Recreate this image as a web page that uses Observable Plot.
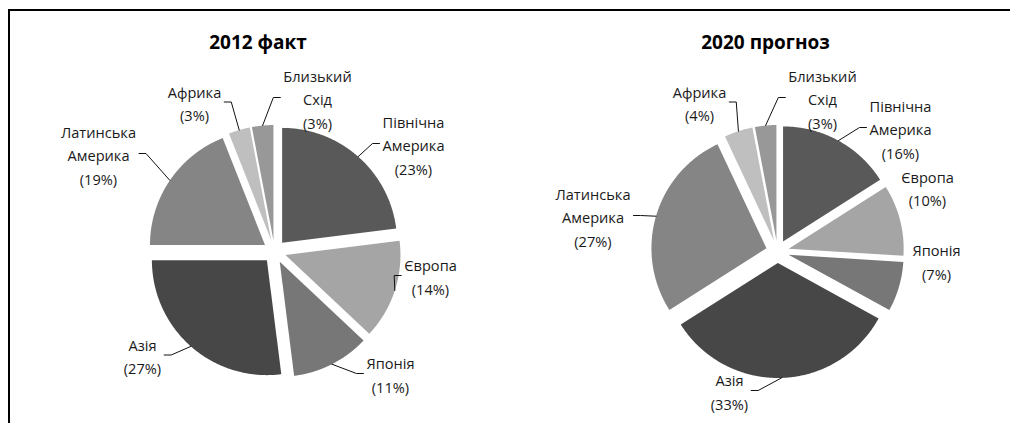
<!DOCTYPE html>
<html><head><meta charset="utf-8">
<script src="https://cdn.jsdelivr.net/npm/d3@7"></script>
<script src="https://cdn.jsdelivr.net/npm/@observablehq/plot@0.6"></script>
<style>
html,body{margin:0;padding:0;background:#fff;}
#wrap{position:relative;width:1010px;height:423px;overflow:hidden;font-family:"Open Sans",sans-serif;}
#frame{position:absolute;left:8px;top:9px;width:1100px;height:600px;border-top:2px solid #000;border-left:2px solid #000;box-sizing:border-box;pointer-events:none;}
.pie{position:absolute;top:0;}
</style></head><body>
<div id="wrap"></div>
<script>
// ---------- data ----------
const regions = ["Північна Америка", "Європа", "Японія", "Азія", "Латинська Америка", "Африка", "Близький Схід"];
const share2012 = [23, 14, 11, 27, 19, 3, 3];
const share2020 = [16, 10, 7, 33, 27, 4, 3];
const titles = ["2012 факт", "2020 прогноз"];

// ---------- style / layout ----------
const grays = ["#595959", "#a5a5a5", "#777777", "#474747", "#858585", "#bfbfbf", "#989898"];
const FONT = "'Open Sans'";
const R = 115;            // pie radius in px
const EXPLODE = 0.1;      // slice explosion, fraction of radius
const LABEL_FONT = 14.6, LINE_PX = 23.5;
const pies = [
  {title: titles[0], values: share2012, left: 0, cx: 274, cy: 251, titleDx: -16.5, titleY: 42.5,
   labelOffsets: [[139,-108],[156,24],[116,122],[-132,103.5],[-176,-98],[-80,-149.5],[43,-154]],
   leaders: [true,true,true,true,true,true,true]},
  {title: titles[1], values: share2020, left: 505, cx: 272, cy: 251, titleDx: -12, titleY: 42.5,
   labelOffsets: [[123,-124],[150,-64.5],[159,9],[-48,139],[-184.5,-36],[-78,-149.5],[45,-154]],
   leaders: [true,false,false,true,true,true,true]}
];

const ctx = document.createElement("canvas").getContext("2d");
ctx.font = `${LABEL_FONT}px ${FONT}`;

function build(p) {
  const total = d3.sum(p.values);
  let acc = 0;
  const rows = [], labels = [], leaders = [];
  p.values.forEach((v, i) => {
    const a0 = acc / total * 2 * Math.PI; acc += v;
    const a1 = acc / total * 2 * Math.PI;
    const am = (a0 + a1) / 2;
    const ox = EXPLODE * Math.sin(am), oy = EXPLODE * Math.cos(am);
    const region = regions[i];
    rows.push({region, x: ox, y: oy});
    const n = Math.max(2, Math.ceil((a1 - a0) / (Math.PI / 360)));
    for (let k = 0; k <= n; k++) {
      const a = a0 + (a1 - a0) * k / n;
      rows.push({region, x: ox + Math.sin(a), y: oy + Math.cos(a)});
    }
    rows.push({region, x: ox, y: oy});

    const lines = region.split(" ").concat([`(${v}%)`]);
    const [dx, dy] = p.labelOffsets[i];
    const lx = dx / R, ly = -dy / R;
    labels.push({x: lx, y: ly, text: lines.join("\n")});

    if (p.leaders[i]) {
      const hw = d3.max(lines, s => ctx.measureText(s).width) / 2;
      const ax = ox + Math.sin(am), ay = oy + Math.cos(am);   // arc point (data units)
      const axPx = ax * R, lxPx = dx;
      const side = axPx >= lxPx ? 1 : -1;
      const endPx = lxPx + side * (hw + 3);
      const elbowPx = endPx + side * 7;
      leaders.push({id: region, x: endPx / R, y: ly});
      leaders.push({id: region, x: elbowPx / R, y: ly});
      leaders.push({id: region, x: ax, y: ay});
    }
  });
  return {rows, labels, leaders};
}

const wrap = document.getElementById("wrap");
for (const p of pies) {
  const {rows, labels, leaders} = build(p);
  const chart = Plot.plot({
    width: 505, height: 423, margin: 0,
    x: {domain: [-1, 1], range: [p.cx - R, p.cx + R], axis: null},
    y: {domain: [-1, 1], range: [p.cy + R, p.cy - R], axis: null},
    color: {domain: regions, range: grays},
    style: {background: "transparent", fontFamily: FONT + ", sans-serif", overflow: "visible"},
    marks: [
      Plot.line(rows, {x: "x", y: "y", z: "region", fill: "region", stroke: "none", curve: "linear"}),
      Plot.line(leaders, {x: "x", y: "y", z: "id", stroke: "#111", strokeWidth: 1}),
      Plot.text(labels, {x: "x", y: "y", text: "text", fontSize: LABEL_FONT, lineHeight: LINE_PX / LABEL_FONT, fill: "#1a1a1a"}),
      Plot.text([p.title], {x: () => p.titleDx / R, y: () => (p.cy - p.titleY) / R, text: d => d, fontSize: 19, fontWeight: "bold", fill: "#000"})
    ]
  });
  chart.classList.add("pie");
  chart.style.left = p.left + "px";
  wrap.appendChild(chart);
}
const frame = document.createElement("div");
frame.id = "frame";
wrap.appendChild(frame);
</script>
</body></html>
